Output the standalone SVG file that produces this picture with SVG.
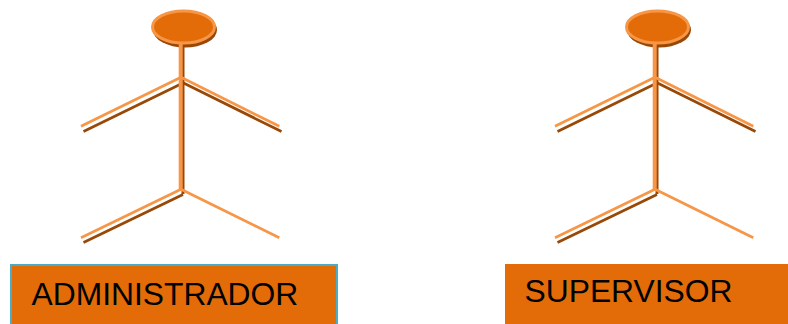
<svg xmlns="http://www.w3.org/2000/svg" width="788" height="324" viewBox="0 0 788 324">
<style>
.shadow{stroke:#984807;stroke-width:2.700;fill:none}
.limb{stroke:#F79646;stroke-width:2.700;fill:none}
.body{stroke:#F79646;stroke-width:4;fill:none}
.bodyshadow{stroke:#984807;stroke-width:3;fill:none}
.head{fill:#E36C09;stroke:#F79646;stroke-width:3}
.headshadow{fill:#984807}
.label{fill:#E36C09}
text{font-family:"Liberation Sans",Arial,sans-serif;font-size:31.800px;fill:#000}
</style>
<defs>
<g id="actor">
<ellipse class="headshadow" cx="185" cy="30" rx="32" ry="17.500"/>
<path class="bodyshadow" d="M183 44V194"/>
<path class="shadow" d="M183 83L83.500 131.500M182.500 82.500L281.500 131.500M183 194.500L83.500 242.500"/>
<ellipse class="head" cx="183.500" cy="27" rx="31" ry="16"/>
<path class="body" d="M180.700 43V190"/>
<path class="limb" d="M181 77.300L81 126.300M181 77.300L279.300 126.300M181 189.300L81 237.700M181 189.300L279.300 237.700"/>
</g>
</defs>
<g id="connectors"/>
<g id="actor-administrador"><use href="#actor"/></g>
<g id="actor-supervisor"><use href="#actor" x="474"/></g>
<g id="administrador">
<rect class="label" x="11" y="265" width="326" height="60" stroke="#4BACC6" stroke-width="2"/>
<text x="31.500" y="305">ADMINISTRADOR</text>
</g>
<g id="supervisor">
<rect class="label" x="505" y="264" width="283" height="60"/>
<text x="524.500" y="302">SUPERVISOR</text>
</g>
</svg>
